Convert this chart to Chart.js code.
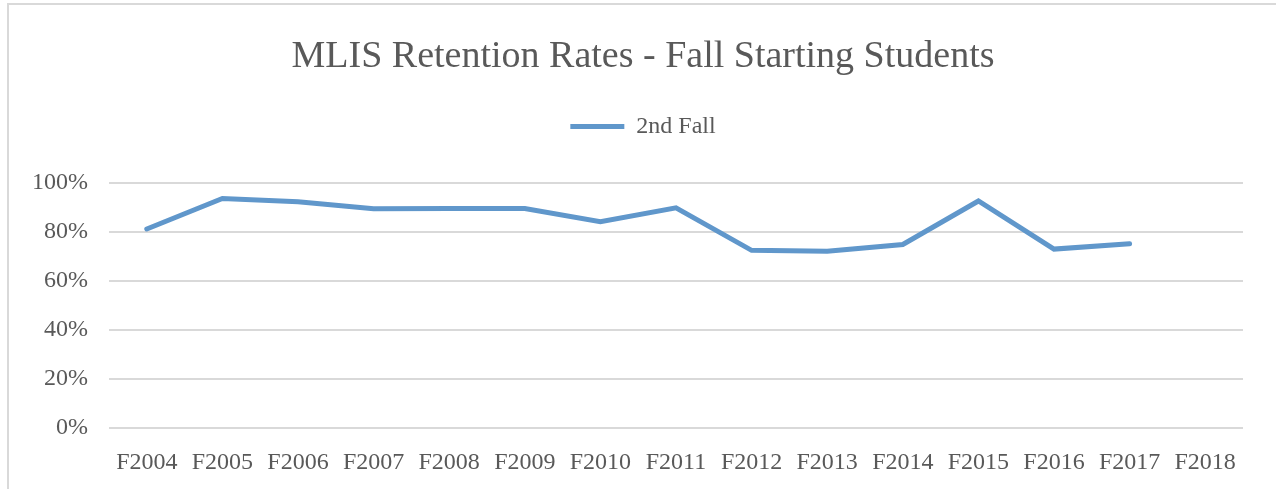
<!DOCTYPE html>
<html>
<head>
<meta charset="utf-8">
<script src="https://cdn.jsdelivr.net/npm/chart.js@4.4.0/dist/chart.umd.min.js"></script>
<style>
  html, body { margin: 0; padding: 0; background: #fff; }
  #wrap { position: relative; width: 1276px; height: 489px; }
  #frame { position: absolute; left: 7px; top: 3px; width: 1400px; height: 600px;
           border: 2px solid #d9d9d9; box-sizing: border-box; pointer-events: none; }
</style>
</head>
<body>
<div id="wrap">
  <canvas id="chart" width="1276" height="489"></canvas>
  <div id="frame"></div>
</div>
<script>
let years = ['F2004', 'F2005', 'F2006', 'F2007', 'F2008', 'F2009', 'F2010',
             'F2011', 'F2012', 'F2013', 'F2014', 'F2015', 'F2016', 'F2017', 'F2018']
let secondFall = [81.1, 93.5, 92.2, 89.3, 89.4, 89.4, 84.1,
                  89.7, 72.4, 72.0, 74.8, 92.5, 72.9, 75.1, null]
let yTicks = [0, 20, 40, 60, 80, 100]

let grey = '#595959'
let font = "'Liberation Serif', 'DejaVu Serif', serif"

// push the plot down below the legend, like the original
let legendGap = {
    id: 'legendGap',
    afterInit(chart) {
        let fit = chart.legend.fit
        chart.legend.fit = function () {
            fit.call(this)
            this.height += 34
        }
    }
}

let ctx = document.getElementById('chart').getContext('2d')
let myChart = new Chart(ctx, {
    type: 'line',
    data: {
        labels: years,
        datasets: [
            {
                label: '2nd Fall',
                data: secondFall,
                borderColor: '#6097cb',
                backgroundColor: '#6097cb',
                borderWidth: 5,
                borderCapStyle: 'round',
                borderJoinStyle: 'miter',
                fill: false,
                lineTension: 0,
                pointRadius: 0,
                pointHoverRadius: 0
            }
        ]
    },
    plugins: [legendGap],
    options: {
        responsive: false,
        animation: false,
        layout: { padding: { top: 10, right: 33, bottom: 0, left: 43 } },
        plugins: {
            title: {
                display: true,
                text: 'MLIS Retention Rates - Fall Starting Students',
                color: grey,
                font: { family: font, size: 38, weight: 'normal' },
                padding: { top: 24, bottom: 25 }
            },
            legend: {
                display: true,
                labels: {
                    color: grey,
                    font: { family: font, size: 24 },
                    usePointStyle: true,
                    pointStyle: 'line',
                    pointStyleWidth: 54,
                    boxWidth: 54,
                    boxHeight: 6,
                    padding: 10
                }
            },
            tooltip: { enabled: false }
        },
        scales: {
            x: {
                offset: true,
                grid: { display: false, drawTicks: false },
                border: { display: false },
                ticks: {
                    color: grey,
                    font: { family: font, size: 24 },
                    padding: 20,
                    maxRotation: 0,
                    autoSkip: false
                },
                afterFit: scale => { scale.height = 61 }
            },
            y: {
                min: 0,
                max: 100,
                afterBuildTicks: scale => { scale.ticks = yTicks.map(v => ({ value: v })) },
                grid: { color: '#d9d9d9', lineWidth: 2, drawTicks: false },
                border: { display: false },
                ticks: {
                    color: grey,
                    font: { family: font, size: 24 },
                    padding: 21,
                    callback: v => v + '%'
                },
                afterFit: scale => {
                    scale.width = 66
                    // labels stick out past the left padding, don't clip them
                    scale._computeLabelArea = () => undefined
                }
            }
        }
    }
})
</script>
</body>
</html>
